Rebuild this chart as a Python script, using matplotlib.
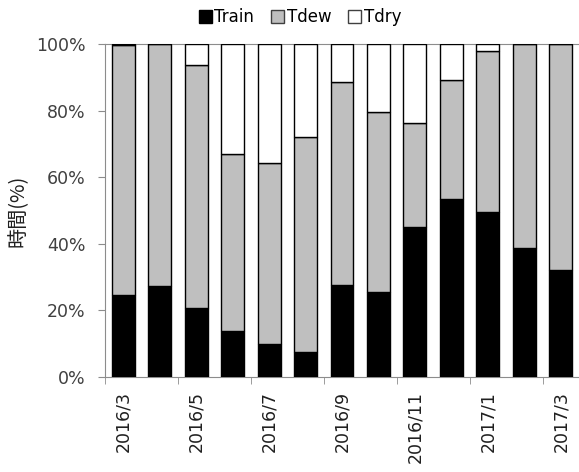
import matplotlib
matplotlib.use("Agg")
import matplotlib.pyplot as plt
import numpy as np
from matplotlib.patches import Patch

plt.rcParams['font.family'] = ['DejaVu Sans', 'Noto Sans CJK JP']

months = ["2016/3", "2016/4", "2016/5", "2016/6", "2016/7", "2016/8", "2016/9",
          "2016/10", "2016/11", "2016/12", "2017/1", "2017/2", "2017/3"]
train = [24.5, 27.2, 20.6, 13.9, 9.9, 7.6, 27.5, 25.4, 45.0, 53.4, 49.4, 38.7, 32.2]
tdew = [75.2, 72.8, 73.2, 53.2, 54.5, 64.4, 61.0, 54.2, 31.4, 35.9, 48.4, 61.3, 67.8]
tdry = [0.3, 0.0, 6.2, 32.9, 35.6, 28.0, 11.5, 20.4, 23.6, 10.7, 2.2, 0.0, 0.0]
series_names = ["Train", "Tdew", "Tdry"]

fig = plt.figure(figsize=(5.79, 4.72), dpi=100)
ax = fig.add_axes([105 / 579, 1 - 377 / 472, 474 / 579, 333 / 472])

x = np.arange(len(months))
w = 0.63
train_a = np.array(train)
tdew_a = np.array(tdew)
tdry_a = np.array(tdry)

ax.bar(x, train_a, w, color="black", edgecolor="black", linewidth=1.0, zorder=3)
ax.bar(x, tdew_a, w, bottom=train_a, color="#bfbfbf", edgecolor="black",
       linewidth=1.0, zorder=3)
ax.bar(x, tdry_a, w, bottom=train_a + tdew_a, color="white", edgecolor="black",
       linewidth=1.0, zorder=3)

ax.set_xlim(-0.5, len(months) - 0.5)
ax.set_ylim(0, 100)

# y axis
ax.set_yticks(np.arange(0, 101, 20))
ax.set_yticklabels([f"{v}%" for v in range(0, 101, 20)])
ax.tick_params(axis="y", direction="out", length=5, color="#8c8c8c",
               labelsize=12.5, labelcolor="#404040", pad=9)
ax.set_ylabel("時間(%)", fontsize=14.5, color="#202020",
              family=['Noto Sans CJK JP', 'DejaVu Sans'], labelpad=5)

# x axis: labels at every other month, tick marks on category edges
ax.set_xticks(x[::2])
ax.set_xticklabels(months[::2], rotation=90)
ax.set_xticks(np.arange(-0.5, len(months), 2), minor=True)
ax.tick_params(axis="x", which="major", length=0, labelsize=12.5,
               labelcolor="#202020", pad=10)
ax.tick_params(axis="x", which="minor", direction="out", length=5,
               color="#8c8c8c")

ax.spines["right"].set_visible(False)
for side in ["left", "bottom", "top"]:
    ax.spines[side].set_color("#8c8c8c")

handles = [
    Patch(facecolor="black", edgecolor="black"),
    Patch(facecolor="#bfbfbf", edgecolor="#404040"),
    Patch(facecolor="white", edgecolor="#404040"),
]
fig.legend(handles, series_names, loc="center", bbox_to_anchor=(300 / 579, 1 - 17 / 472),
           ncol=3, frameon=False, fontsize=12, handlelength=0.8, handleheight=0.8,
           handletextpad=0.15, columnspacing=1.0, borderaxespad=0)

fig.savefig("out.png", dpi=100)
